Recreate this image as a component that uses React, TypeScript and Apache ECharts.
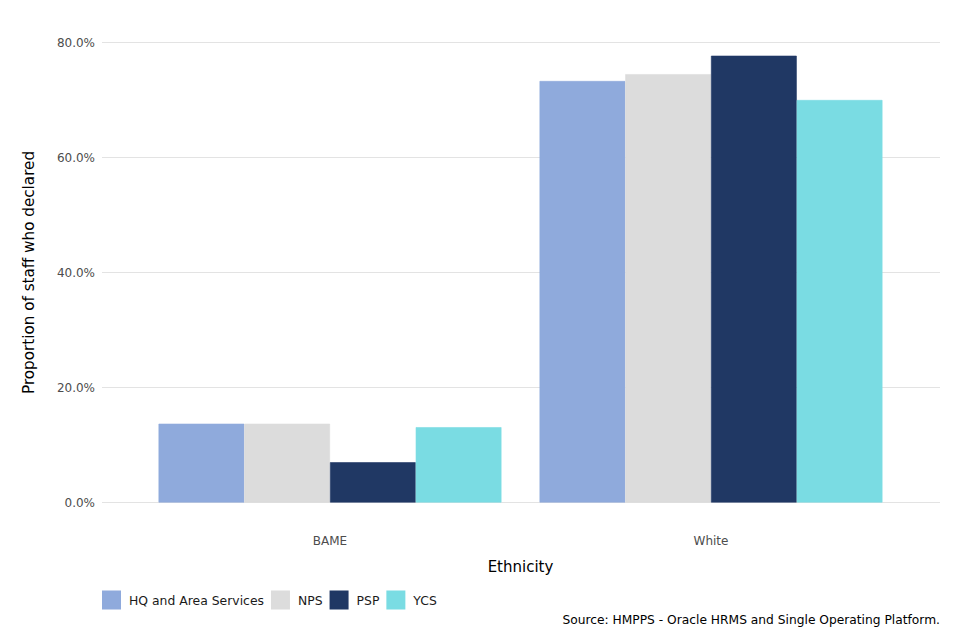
import React, { useEffect, useRef } from "react";
import * as echarts from "echarts";

const categories = ["BAME", "White"];
const seriesNames = ["HQ and Area Services", "NPS", "PSP", "YCS"];
const hqValues = [13.7, 73.3];
const npsValues = [13.7, 74.5];
const pspValues = [7.0, 77.7];
const ycsValues = [13.1, 70.0];
const colors = ["#8FAADC", "#DCDCDC", "#203864", "#7ADCE3"];
const yTicks = { min: 0, max: 80, interval: 20 };

export default function App() {
  const ref = useRef<HTMLDivElement>(null);
  useEffect(() => {
    if (!ref.current) return;
    const chart = echarts.init(ref.current, undefined, { renderer: "svg" });
    const font = "DejaVu Sans";
    const values = [hqValues, npsValues, pspValues, ycsValues];
    chart.setOption({
      animation: false,
      backgroundColor: "#ffffff",
      textStyle: { fontFamily: font },
      grid: [
        { left: 102, right: 20, top: 42.5, bottom: 137.5 },
        { left: 139.5, right: 58.5, top: 42.5, bottom: 137.5 },
      ],
      legend: {
        left: 102,
        top: 590.5,
        padding: 0,
        itemWidth: 17,
        itemHeight: 17,
        itemGap: 7,
        icon: "rect",
        data: seriesNames,
        textStyle: { fontFamily: font, fontSize: 12.4, color: "#1a1a1a", padding: [0, 0, 0, 4] },
      },
      graphic: [
        {
          type: "text",
          right: 20,
          top: 614,
          style: {
            text: "Source: HMPPS - Oracle HRMS and Single Operating Platform.",
            fontFamily: font,
            fontSize: 12.25,
            fill: "#000000",
          },
        },
      ],
      xAxis: [
        {
          type: "category",
          gridIndex: 0,
          show: false,
          data: categories,
        },
        {
          type: "category",
          gridIndex: 1,
          data: categories,
          axisLine: { show: false },
          axisTick: { show: false },
          axisLabel: { color: "#4d4d4d", fontSize: 12, margin: 32, fontFamily: font },
          name: "Ethnicity",
          nameLocation: "middle",
          nameGap: 57,
          nameTextStyle: { color: "#000000", fontSize: 15, fontFamily: font },
        },
      ],
      yAxis: [
        {
          type: "value",
          gridIndex: 0,
          min: yTicks.min,
          max: yTicks.max,
          interval: yTicks.interval,
          axisLine: { show: false },
          axisTick: { show: false },
          splitLine: { lineStyle: { color: "#e3e3e3", width: 1.2 } },
          axisLabel: {
            color: "#4d4d4d",
            fontSize: 12,
            margin: 7,
            fontFamily: font,
            formatter: (v: number) => v.toFixed(1) + "%",
          },
          name: "Proportion of staff who declared",
          nameLocation: "middle",
          nameGap: 66,
          nameTextStyle: { color: "#000000", fontSize: 15.2, fontFamily: font },
        },
        {
          type: "value",
          gridIndex: 1,
          min: yTicks.min,
          max: yTicks.max,
          interval: yTicks.interval,
          show: false,
        },
      ],
      series: seriesNames.map((name, i) => ({
        name,
        type: "bar",
        xAxisIndex: 1,
        yAxisIndex: 1,
        data: values[i],
        barGap: "0%",
        barCategoryGap: "10%",
        itemStyle: { color: colors[i], borderColor: colors[i], borderWidth: 0.6 },
      })),
    });
    return () => chart.dispose();
  }, []);
  return (
    <div
      ref={ref}
      style={{ position: "fixed", left: 0, top: 0, width: 960, height: 640 }}
    />
  );
}
